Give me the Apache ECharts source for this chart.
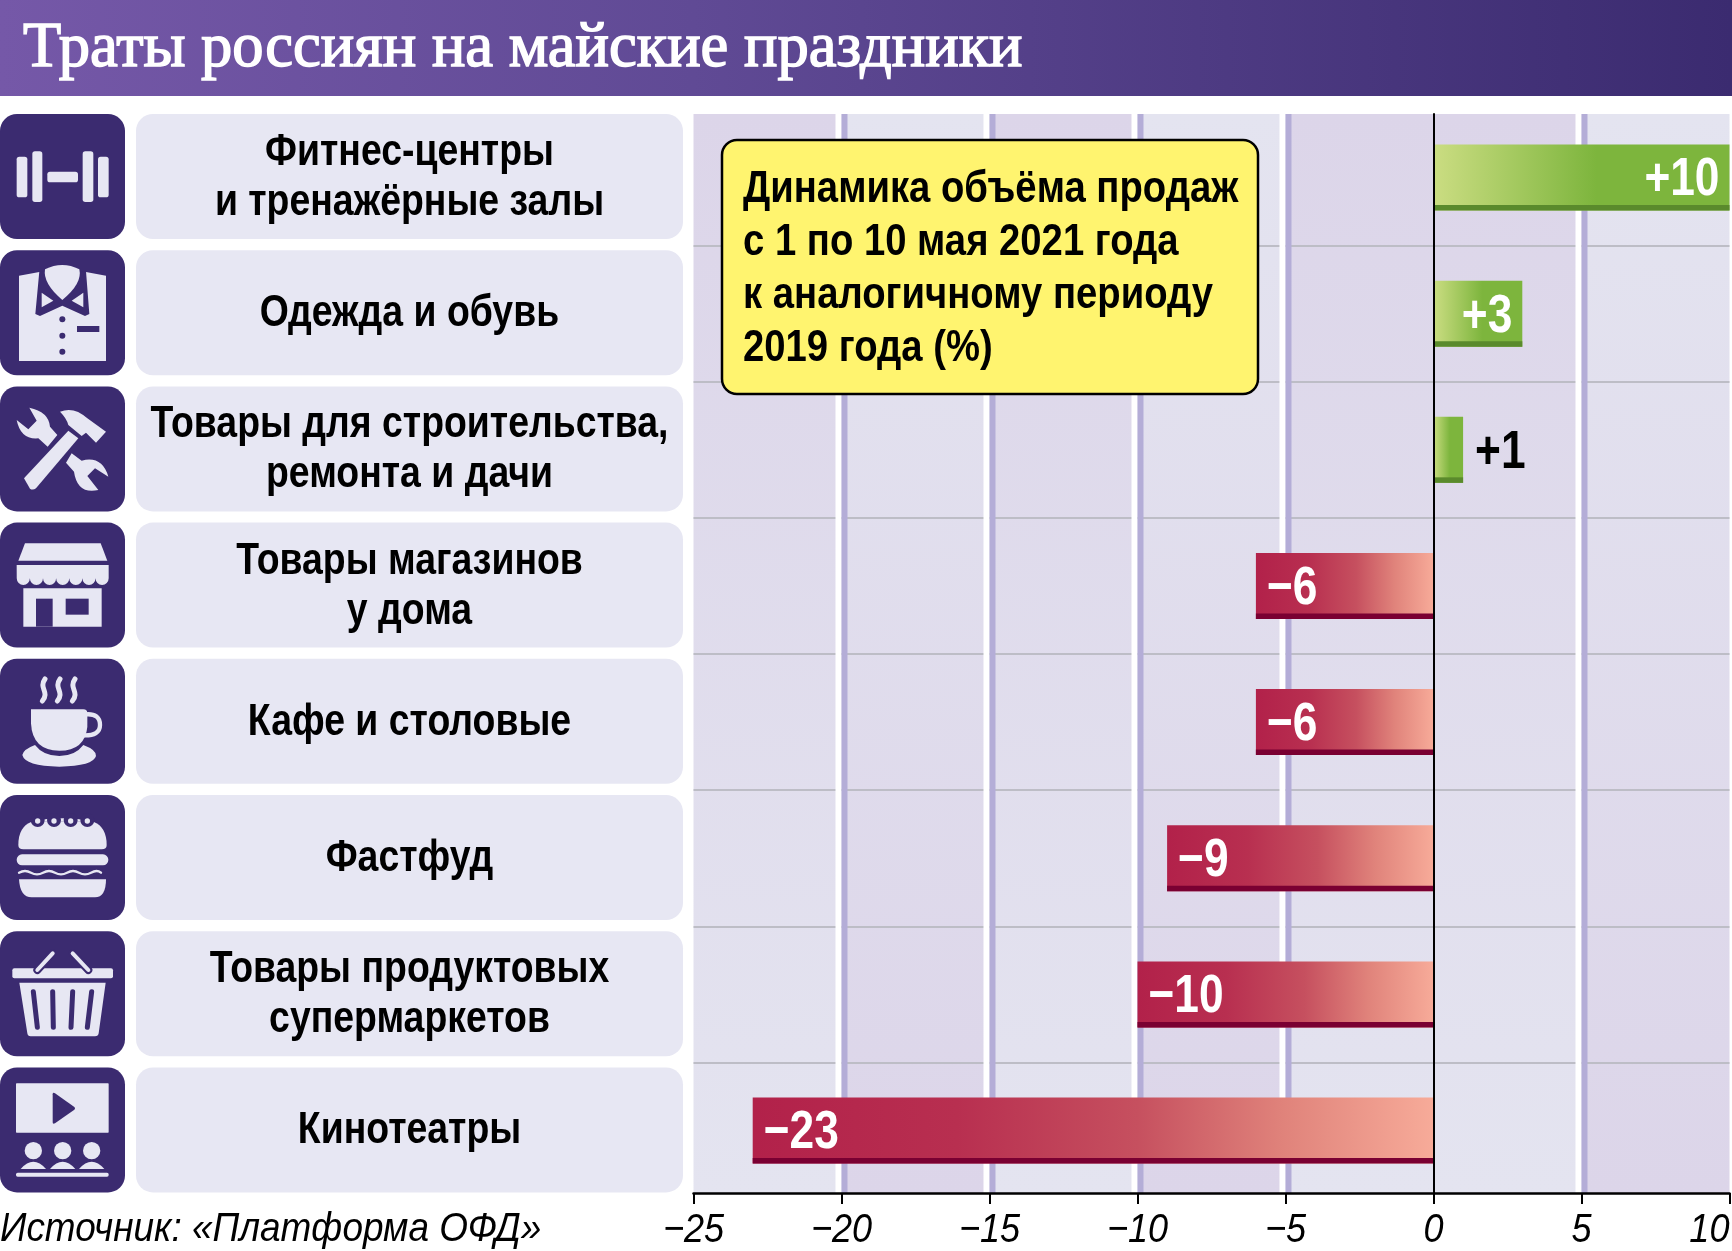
<!DOCTYPE html>
<html><head><meta charset="utf-8">
<style>html,body{margin:0;padding:0;background:#fff}#c{width:1732px;height:1251px}</style>
<script src="https://cdn.jsdelivr.net/npm/echarts@6/dist/echarts.min.js"></script>
</head><body><div id="c"></div>
<script>
const titleText = 'Траты россиян на майские праздники';
const sourceText = 'Источник: «Платформа ОФД»';
const calloutText = 'Динамика объёма продаж\nс 1 по 10 мая 2021 года\nк аналогичному периоду\n2019 года (%)';
const categories = ['Фитнес-центры\nи тренажёрные залы','Одежда и обувь','Товары для строительства,\nремонта и дачи','Товары магазинов\nу дома','Кафе и столовые','Фастфуд','Товары продуктовых\nсупермаркетов','Кинотеатры'];
const values = [10,3,1,-6,-6,-9,-10,-23];
const tickValues = [-25,-20,-15,-10,-5,0,5,10];
const bandStarts = [-25,-20,-15,-10,-5,0,5];
const bandFlip = [0,1,0,1,0,0,1];
const stripeAt = [-20,-15,-10,-5,5];

const SANS = '"Liberation Sans",sans-serif';
const DARK='#3b2b70', LIGHT='#e7e7f3';
const ROW_TOP=114, ROW_STEP=136.2, ROW_SIZE=125;
const fmt = v => (v<0?'\u2212'+(-v):String(v));
const signed = v => (v>0?'+'+v:'\u2212'+(-v));
const txt=(o)=>Object.assign({align:o.textAlign,verticalAlign:o.textVerticalAlign},o);

// ---------- icons: decorative pictograms in 3x local units
const L=(d)=>({type:'path',shape:{pathData:d},style:{fill:LIGHT}});
const D=(d)=>({type:'path',shape:{pathData:d},style:{fill:DARK}});
const SL=(d,w)=>({type:'path',shape:{pathData:d},style:{fill:'none',stroke:LIGHT,lineWidth:w,lineCap:'round'}});
const SD=(d,w)=>({type:'path',shape:{pathData:d},style:{fill:'none',stroke:DARK,lineWidth:w,lineCap:'round'}});
const R=(x,y,w,h,r,c)=>({type:'rect',shape:{x,y,width:w,height:h,r:r||0},style:{fill:c||LIGHT}});
const C=(x,y,r,c)=>({type:'circle',shape:{cx:x,cy:y,r},style:{fill:c||LIGHT}});
const scallops=(()=>{let s='M50,165 L326,165 L326,205 ';for(let i=0;i<7;i++)s+='a19.7,19.7 0 0 1 -39.4,0 ';return s+'Z';})();
const iconSets=[
 {y:110,c:[R(50,140,32,122,8),R(97,124,30,152,8),R(142,185,92,32,8),R(248,124,32,152,8),R(294,140,32,122,8)]},
 {y:110,c:[L('M57,497 L118,486 L258,486 L318,497 L318,753 L57,753 Z'),
   D('M118,484 L106,612 L120,618 L187,587 L255,618 L268,612 L258,484 Z'),
   L('M135,478 Q187,452 238,478 Q248,520 187,570 Q128,520 135,478 Z'),
   L('M125,548 L160,572 L125,592 Z'),L('M250,548 L215,572 L250,592 Z'),
   C(187,628,9,DARK),C(187,677,9,DARK),C(187,725,9,DARK),R(231,648,67,18,0,DARK)]},
 {y:110,c:[L('M88,893 Q146,905 150,950 L172,975 L143,1010 L115,985 Q62,990 50,930 L85,958 L110,932 Z'),
   L('M215,1030 L245,1052 Q306,1036 325,1100 L285,1075 L262,1098 L295,1140 Q232,1154 222,1085 L198,1058 Z'),
   D('M66,1105 L205,955 L241,985 L105,1144 L84,1142 Z'),
   L('M72,1105 L205,962 L235,985 L108,1135 Q98,1142 90,1136 Z'),
   L('M180,905 Q222,888 262,925 L318,965 L288,998 L258,968 L245,978 L205,945 Q200,925 180,905 Z')]},
 {y:510,c:[L('M75,100 L302,100 L322,152 L55,152 Z'),L(scallops),R(70,235,235,115),R(108,266,50,84,0,DARK),R(197,266,69,48,0,DARK)]},
 {y:510,c:[SL('M135,507 C115,535 150,545 127,573',15),SL('M180,507 C160,535 195,545 172,573',15),SL('M225,507 C205,535 240,545 217,573',15),
   SL('M258,613 Q300,610 300,645 Q300,678 250,676',13),
   L('M93,598 L250,598 Q262,598 262,610 L262,650 Q255,722 178,722 Q97,722 93,640 Z'),
   L('M105,705 Q130,738 178,738 Q225,738 250,705 Q290,720 288,738 Q280,768 178,770 Q75,768 67,735 Q70,718 105,705 Z')]},
 {y:510,c:[L('M55,1005 Q55,950 95,935 L280,935 Q320,950 320,1005 Q320,1018 305,1018 L70,1018 Q55,1018 55,1005 Z'),
   L('M95,935 Q185,915 280,935 Z'),
   C(113,930,21,DARK),C(162,930,21,DARK),C(212,930,21,DARK),C(262,930,21,DARK),
   C(113,933,8),C(162,933,8),C(212,933,8),C(262,933,8),
   R(50,1033,275,33,16),
   SL('M57,1088 Q75,1078 93,1088 T129,1088 T165,1088 T201,1088 T237,1088 T273,1088 T303,1088',7),
   L('M57,1108 L318,1108 Q318,1162 285,1162 L95,1162 Q60,1162 57,1108 Z')]},
 {y:920,c:[R(37,145,302,30,6),L('M58,188 L317,188 L296,340 Q295,349 285,349 L92,349 Q83,349 82,340 Z'),
   SD('M100,215 L112,322',15),SD('M158,215 L160,322',15),SD('M218,215 L213,322',15),SD('M275,215 L262,322',15),
   SD('M112,150 L158,100',24),SD('M218,100 L265,150',24),SL('M112,150 L158,100',12),SL('M218,100 L265,150',12)]},
 {y:920,c:[R(48,490,278,148,2),D('M158,523 Q158,516 165,520 L222,560 Q228,565 222,570 L165,610 Q158,614 158,607 Z'),
   C(100,692,26),C(188,692,26),C(275,692,26),
   L('M62,747 Q100,704 138,747 Z'),L('M150,747 Q188,704 226,747 Z'),L('M237,747 Q275,704 313,747 Z'),R(48,758,278,12,5)]}
];

const graphics=[];
graphics.push({type:'rect',shape:{x:0,y:0,width:1732,height:96},z:0,
  style:{fill:new echarts.graphic.LinearGradient(0,0,1,0,[{offset:0,color:'#7558a8'},{offset:0.4,color:'#604a95'},{offset:1,color:'#3b2b70'}])}});
categories.forEach((_,i)=>{
  const y=ROW_TOP+i*ROW_STEP;
  graphics.push({type:'rect',shape:{x:0,y,width:ROW_SIZE,height:ROW_SIZE,r:17},style:{fill:DARK},z:0});
  graphics.push({type:'rect',shape:{x:136,y,width:547,height:ROW_SIZE,r:17},style:{fill:LIGHT},z:0});
});
graphics.push({type:'text',x:0,y:1209,scaleX:0.9,z:5,style:txt({text:sourceText,fontFamily:SANS,fontSize:41,fontStyle:'italic',fill:'#000',textAlign:'left',textVerticalAlign:'top'})});
graphics.push({type:'rect',shape:{x:722,y:140,width:536,height:254,r:15},style:{fill:'#fff46f',stroke:'#000',lineWidth:2.5},z:20});
graphics.push({type:'text',x:743,y:163,scaleX:0.85,z:21,style:txt({text:calloutText,fontFamily:SANS,fontSize:45,fontWeight:'bold',lineHeight:53,fill:'#000',textAlign:'left',textVerticalAlign:'top'})});

const GL=693.5, GR=1732-1729.5;
const gradPos=[{offset:0,color:'#cbdd82'},{offset:0.55,color:'#7db53d'},{offset:1,color:'#7db53d'}];
const gradNeg=[{offset:0,color:'#b2214a'},{offset:0.3,color:'#b82f50'},{offset:0.565,color:'#c6505f'},{offset:0.78,color:'#e0837b'},{offset:1,color:'#f7ab99'}];

const chart=echarts.init(document.getElementById('c'),null,{renderer:'canvas'});
chart.setOption({
  animation:false,
  backgroundColor:'#fff',
  title:{text:titleText,left:18,top:13,z:5,textStyle:{fontFamily:'"Liberation Serif",serif',fontSize:62.5,fontWeight:'normal',color:'#fff',textBorderColor:'#fff',textBorderWidth:1.5}},
  grid:[
    {left:GL,right:GR,top:114,height:1079},
    {left:GL,right:GR,top:109.5,height:1089.1}
  ],
  xAxis:[
    {type:'value',gridIndex:0,min:-25,max:10,interval:5,z:6,position:'bottom',
     axisLine:{show:true,onZero:false,lineStyle:{color:'#000',width:2.5}},
     axisTick:{show:true,length:11,lineStyle:{color:'#000',width:2}},
     splitLine:{show:false},axisLabel:{show:false}},
    {type:'value',gridIndex:1,min:-25,max:10,interval:5,show:false}
  ],
  yAxis:[
    {type:'value',gridIndex:0,min:0,max:1,z:6,axisLine:{show:true,onZero:true,lineStyle:{color:'#000',width:2}},axisTick:{show:false},axisLabel:{show:false},splitLine:{show:false}},
    {type:'category',gridIndex:1,inverse:true,data:categories,z:2,
     axisLine:{show:false},axisTick:{show:false},axisLabel:{show:false},
     splitLine:{show:true,showMinLine:false,showMaxLine:false,interval:0,lineStyle:{color:'#bdbdc6',width:2}}}
  ],
  series:[
    {name:'bands',type:'custom',xAxisIndex:0,yAxisIndex:0,z:1,silent:true,clip:false,
     data:bandStarts.map((s,i)=>[s,bandFlip[i]]),
     renderItem(p,api){
       const a=api.coord([api.value(0),1]),b=api.coord([api.value(0)+5,0]);
       const dark='#dcd5e9',light='#e4e4f0';
       const c=api.value(1)?[light,dark]:[dark,light];
       return {type:'rect',shape:{x:a[0],y:a[1],width:b[0]-a[0],height:b[1]-a[1]},
         style:{fill:new echarts.graphic.LinearGradient(0,0,0,1,[{offset:0,color:c[0]},{offset:1,color:c[1]}])}};
     }},
    {name:'stripes',type:'custom',xAxisIndex:0,yAxisIndex:0,z:3,silent:true,clip:false,
     data:stripeAt.map(v=>[v]),
     renderItem(p,api){
       const a=api.coord([api.value(0),1]),b=api.coord([api.value(0),0]);
       return {type:'group',children:[
         {type:'rect',shape:{x:a[0]-6,y:a[1],width:6,height:b[1]-a[1]},style:{fill:'#fff'}},
         {type:'rect',shape:{x:a[0],y:a[1],width:6,height:b[1]-a[1]},style:{fill:'#b4add7'}}]};
     }},
    {name:'tickLabels',type:'custom',xAxisIndex:0,yAxisIndex:0,z:6,silent:true,clip:false,
     data:tickValues.map(v=>[v]),
     renderItem(p,api){
       const v=api.value(0),a=api.coord([v,0]);
       const isMax=v===tickValues[tickValues.length-1];
       return {type:'text',x:a[0],y:a[1]+38,scaleX:0.88,
         style:txt({text:fmt(v),fontFamily:SANS,fontSize:41,fontStyle:'italic',fill:'#000',textAlign:isMax?'right':'center',textVerticalAlign:'middle'})};
     }},
    {name:'Динамика',type:'bar',xAxisIndex:1,yAxisIndex:1,barWidth:66,z:4,
     data:values.map(v=>({value:v,itemStyle:{color:new echarts.graphic.LinearGradient(0,0,1,0,v>0?gradPos:gradNeg)}}))},
    {name:'strip',type:'custom',xAxisIndex:1,yAxisIndex:1,z:5,silent:true,clip:false,
     data:values.map((v,i)=>[v,i]),
     renderItem(p,api){
       const v=api.value(0),c0=api.coord([0,api.value(1)]),c1=api.coord([v,api.value(1)]);
       const w=Math.abs(c1[0]-c0[0]),big=Math.abs(v)>1;
       const tx=v>0?(big?c1[0]-10:c1[0]+12):c1[0]+11;
       return {type:'group',children:[
         {type:'rect',shape:{x:Math.min(c0[0],c1[0]),y:c0[1]+27.5,width:w,height:5.5},style:{fill:v>0?'#5a8a2c':'#7a0032'}},
         {type:'text',x:tx,y:c0[1]+3,scaleX:0.82,style:txt({text:signed(v),fontFamily:SANS,fontSize:54,fontWeight:'bold',fill:big?'#fff':'#000',
           textAlign:(v>0&&big)?'right':'left',textVerticalAlign:'middle'})}
       ]};
     }},
    {name:'categoryLabels',type:'custom',xAxisIndex:1,yAxisIndex:1,z:6,silent:true,clip:false,
     data:categories.map((_,i)=>[-25,i]),
     renderItem(p,api){
       const a=api.coord([-25,api.value(1)]);
       return {type:'text',x:409.5,y:a[1]+0.5,scaleX:0.85,
         style:txt({text:categories[p.dataIndex],fontFamily:SANS,fontSize:44,fontWeight:'bold',lineHeight:50,fill:'#000',textAlign:'center',textVerticalAlign:'middle'})};
     }},
    {name:'icons',type:'custom',coordinateSystem:'none',z:2,silent:true,clip:false,
     data:categories.map((_,i)=>[i]),
     renderItem(p){
       const s=iconSets[p.dataIndex];
       return {type:'group',x:0,y:s.y,scaleX:1/3,scaleY:1/3,children:s.c};
     }}
  ],
  graphic:{elements:graphics}
});
</script></body></html>
